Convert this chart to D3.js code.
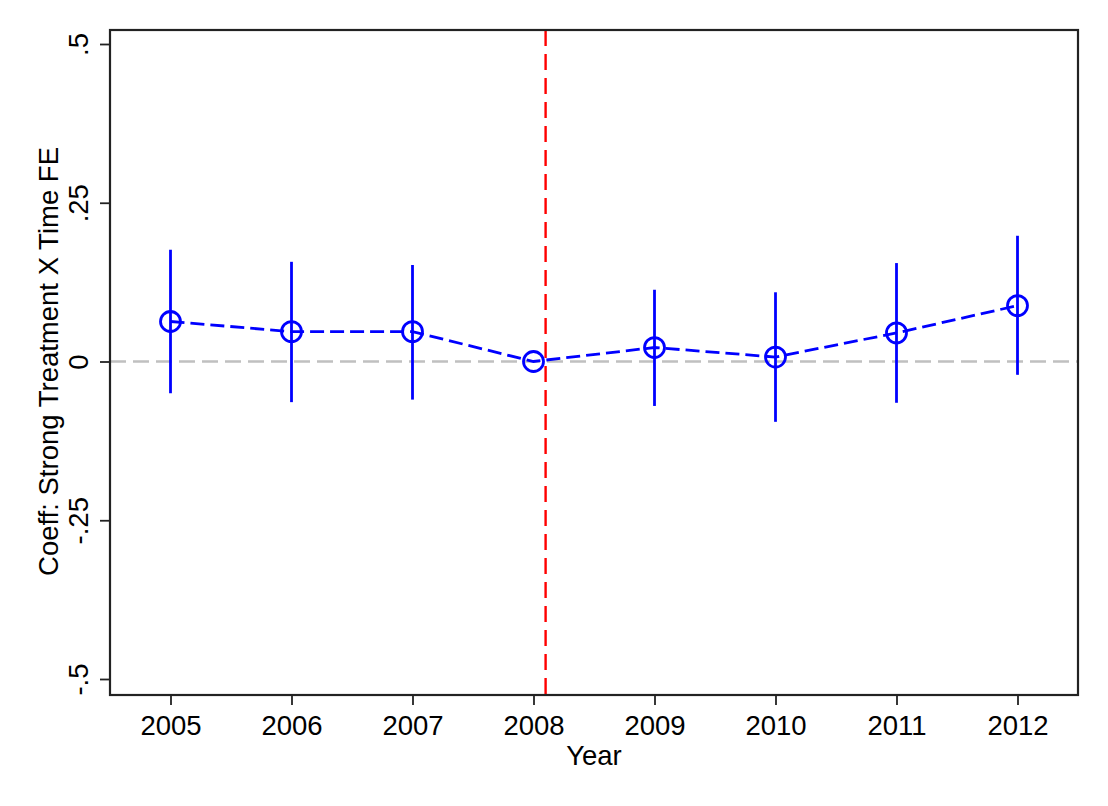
<!DOCTYPE html>
<html><head><meta charset="utf-8">
<script src="https://cdn.jsdelivr.net/npm/d3@7"></script>
<style>body{margin:0;background:#fff}svg{display:block}text{font-family:"Liberation Sans",Arial,Helvetica,sans-serif;fill:#000}</style>
</head><body>
<script>
const years = [2005, 2006, 2007, 2008, 2009, 2010, 2011, 2012];
const coef  = [0.063, 0.047, 0.047, 0.000, 0.022, 0.007, 0.045, 0.088];
const ciLow = [-0.050, -0.064, -0.060, null, -0.070, -0.095, -0.065, -0.021];
const ciHigh= [0.176, 0.157, 0.152, null, 0.113, 0.109, 0.155, 0.198];
const yTicks = [-0.5, -0.25, 0, 0.25, 0.5];
const yTickLabels = ["-.5", "-.25", "0", ".25", ".5"];
const treatmentLine = 2008.1;
const yTitle = "Coeff: Strong Treatment X Time FE";
const xTitle = "Year";

const W = 1108, H = 806;
const FS = "27.5px";
const m = {left:110, top:30, right:1078, bottom:695};
const svg = d3.select("body").append("svg").attr("width", W).attr("height", H);
const x = d3.scaleLinear().domain([2004.5, 2012.5]).range([m.left, m.right]);
const y = d3.scaleLinear().domain([-0.5, 0.5]).range([679, 44]);

// zero line
svg.append("line").attr("x1", m.left).attr("x2", m.right)
  .attr("y1", y(0)).attr("y2", y(0))
  .attr("stroke", "#c0c0c0").attr("stroke-width", 2.4).attr("stroke-dasharray", "16,7");

// treatment line
svg.append("line").attr("x1", x(treatmentLine)).attr("x2", x(treatmentLine))
  .attr("y1", m.top).attr("y2", m.bottom)
  .attr("stroke", "#ff0000").attr("stroke-width", 2.4).attr("stroke-dasharray", "16,8");

const data = years.map((yr, i) => ({yr, c: coef[i], lo: ciLow[i], hi: ciHigh[i]}));

// CI bars
svg.selectAll(".ci").data(data.filter(d => d.lo !== null)).enter().append("line")
  .attr("x1", d => x(d.yr)).attr("x2", d => x(d.yr))
  .attr("y1", d => y(d.lo)).attr("y2", d => y(d.hi))
  .attr("stroke", "#0000ff").attr("stroke-width", 2.8);

// connecting line
svg.append("path").datum(data)
  .attr("d", d3.line().x(d => x(d.yr)).y(d => y(d.c)))
  .attr("fill", "none").attr("stroke", "#0000ff").attr("stroke-width", 2.8)
  .attr("stroke-dasharray", "14,6");

// markers
svg.selectAll(".pt").data(data).enter().append("circle")
  .attr("cx", d => x(d.yr)).attr("cy", d => y(d.c)).attr("r", 10)
  .attr("fill", "none").attr("stroke", "#0000ff").attr("stroke-width", 2.8);

// frame
svg.append("rect").attr("x", m.left).attr("y", m.top)
  .attr("width", m.right - m.left).attr("height", m.bottom - m.top)
  .attr("fill", "none").attr("stroke", "#222").attr("stroke-width", 2.2);

// y axis
const yAxis = d3.axisLeft(y).tickValues(yTicks).tickSize(10).tickFormat((d, i) => yTickLabels[i]);
const gy = svg.append("g").attr("transform", `translate(${m.left},0)`).call(yAxis);
gy.select(".domain").remove();
gy.selectAll(".tick line").attr("stroke", "#222").attr("stroke-width", 1.8);
gy.selectAll(".tick text").attr("transform", "rotate(-90)").attr("x", 0).attr("y", -22)
  .attr("dy", 0).attr("text-anchor", "middle").style("font-size", FS)
  .style("font-family", "Liberation Sans, Arial, sans-serif").attr("fill", "#000");

// x axis
const xAxis = d3.axisBottom(x).tickValues(years).tickSize(10).tickFormat(d3.format("d"));
const gx = svg.append("g").attr("transform", `translate(0,${m.bottom})`).call(xAxis);
gx.select(".domain").remove();
gx.selectAll(".tick line").attr("stroke", "#222").attr("stroke-width", 1.8);
gx.selectAll(".tick text").attr("y", 40).attr("dy", 0).style("font-size", FS)
  .style("font-family", "Liberation Sans, Arial, sans-serif").attr("fill", "#000");

// titles
svg.append("text").attr("x", (m.left + m.right) / 2).attr("y", 765)
  .attr("text-anchor", "middle").style("font-size", FS).text(xTitle);
svg.append("text").attr("transform", `translate(58,${y(0)}) rotate(-90)`)
  .attr("text-anchor", "middle").style("font-size", FS).text(yTitle);
</script>
</body></html>
